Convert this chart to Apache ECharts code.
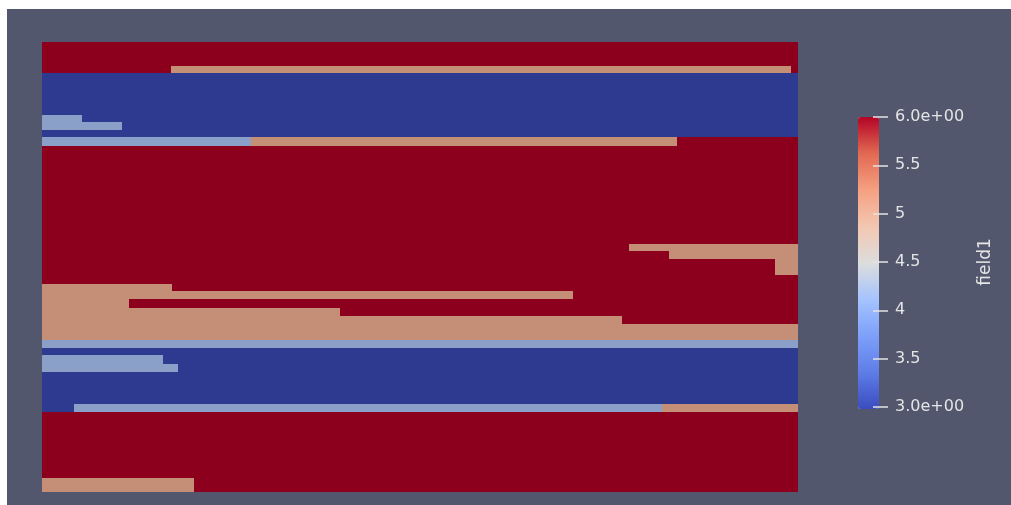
<!DOCTYPE html>
<html>
<head>
<meta charset="utf-8">
<script src="https://cdn.jsdelivr.net/npm/echarts@6/dist/echarts.min.js"></script>
<style>
  html, body { margin: 0; padding: 0; background: #ffffff; width: 1011px; height: 505px; overflow: hidden; }
  #chart { position: absolute; left: 7px; top: 9px; width: 1004px; height: 496px; background: #52576e; }
</style>
</head>
<body>
<div id="chart"></div>
<script>
// Field cells: rectangles in the plot's data space (x: 0..756, y: 0..450 from top)
const xStart  = [0,   129, 0,  0,  0,  0,   209, 587, 627, 733, 0,   0,   0,   0,   0,   0,   0,   0,   0,   0,   32,  620, 0];
const xEnd    = [756, 749, 756, 40, 80, 209, 635, 756, 756, 756, 130, 531, 87,  298, 580, 756, 756, 756, 121, 136, 620, 756, 152];
const yTop    = [0,   24,  31, 73, 80, 95,  95,  202, 209, 217, 242, 249, 257, 266, 274, 282, 298, 306, 313, 322, 362, 362, 436];
const yBottom = [450, 31,  95, 80, 88, 104, 104, 209, 217, 233, 249, 257, 266, 274, 282, 298, 306, 370, 322, 330, 370, 370, 450];
const cellValue = [6, 5.1, 3, 4.2, 4.2, 4.2, 5.1, 5.1, 5.1, 5.1, 5.1, 5.1, 5.1, 5.1, 5.1, 5.1, 4.2, 3, 4.2, 4.2, 4.2, 5.1, 5.1];

const fieldName = 'field1';
const rangeMin = 3, rangeMax = 6, tickStep = 0.5;
const tickLabels = ['3.0e+00', '3.5', '4', '4.5', '5', '5.5', '6.0e+00'];

// styles
const shadedColors = { 3: '#2e3a8f', 4.2: '#8ba0c8', 5.1: '#c48f76', 6: '#8c001e' };
const coolWarm = ['#3b4cc0', '#5e7de7', '#7da0f9', '#a5c3fe', '#dcdddd', '#f3c7b1', '#f5a081', '#e26952', '#b40426'];

const cells = xStart.map((x, i) => [x, xEnd[i], yTop[i], yBottom[i], cellValue[i]]);

const chart = echarts.init(document.getElementById('chart'), null, { renderer: 'canvas' });
const font = 'DejaVu Sans, sans-serif';

chart.setOption({
  animation: false,
  backgroundColor: '#52576e',
  grid: [
    { left: 35, top: 33, width: 756, height: 450 },
    { left: 851, top: 108, width: 15, height: 290 }
  ],
  xAxis: [
    { type: 'value', gridIndex: 0, min: 0, max: 756, show: false },
    { type: 'value', gridIndex: 1, min: 0, max: 1, show: false }
  ],
  yAxis: [
    { type: 'value', gridIndex: 0, min: 0, max: 450, inverse: true, show: false },
    {
      type: 'value', gridIndex: 1, min: rangeMin, max: rangeMax, interval: tickStep,
      position: 'right', z: 10,
      splitLine: { show: false },
      axisLine: { show: false, onZero: false },
      axisTick: { show: true, inside: false, length: 15, lineStyle: { color: '#e4e4e4', width: 1.5 } },
      axisLabel: {
        inside: false, margin: 22, color: '#e4e4e4', fontSize: 16, fontFamily: font,
        formatter: (v) => tickLabels[Math.round((v - rangeMin) / tickStep)]
      },
      name: fieldName, nameLocation: 'middle', nameRotate: 90, nameGap: 104,
      nameTextStyle: { color: '#e4e4e4', fontSize: 17, fontFamily: font }
    }
  ],
  visualMap: [
    {
      type: 'piecewise', show: false, seriesIndex: 0, dimension: 4,
      pieces: Object.keys(shadedColors).map(k => ({ value: Number(k), color: shadedColors[k] }))
    },
    {
      type: 'continuous', show: true, seriesIndex: 1, min: rangeMin, max: rangeMax,
      left: 851, top: 108, itemWidth: 21, itemHeight: 292, padding: 0, z: 4,
      calculable: false, hoverLink: false, text: null, showLabel: false,
      inRange: { color: coolWarm }
    }
  ],
  series: [
    {
      type: 'custom', xAxisIndex: 0, yAxisIndex: 0,
      encode: { x: [0, 1], y: [2, 3] },
      data: cells,
      renderItem: function (params, api) {
        const p0 = api.coord([api.value(0), api.value(2)]);
        const p1 = api.coord([api.value(1), api.value(3)]);
        return {
          type: 'rect',
          shape: { x: p0[0], y: p0[1], width: p1[0] - p0[0], height: p1[1] - p0[1] },
          style: { fill: api.visual('color') }
        };
      }
    },
    { type: 'line', xAxisIndex: 1, yAxisIndex: 1, data: [] }
  ]
});
</script>
</body>
</html>
